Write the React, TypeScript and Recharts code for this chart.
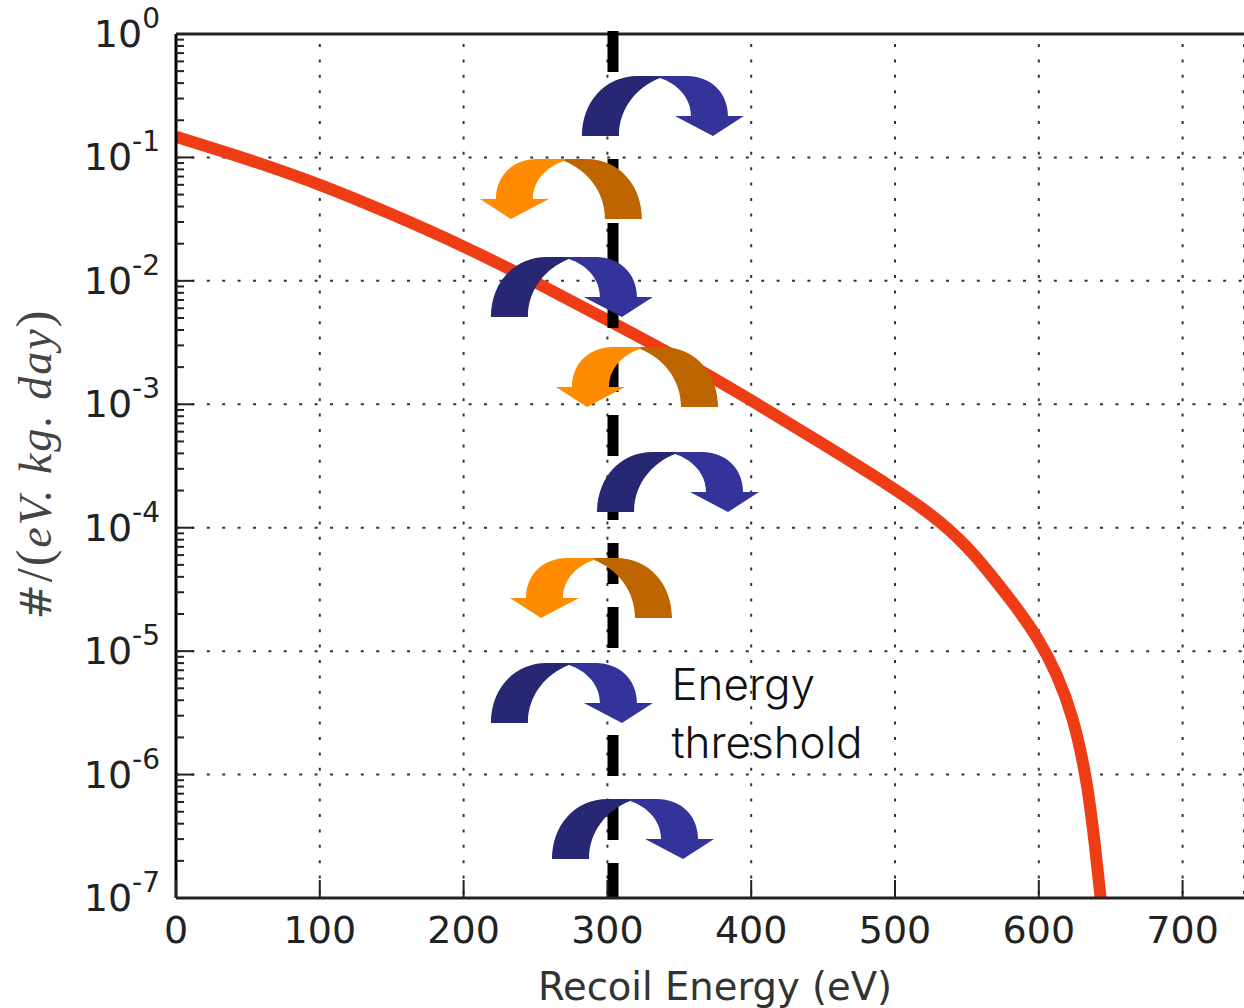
import React from "react";
import {
  ComposedChart, Line, Scatter, XAxis, YAxis, CartesianGrid, ReferenceLine, ReferenceDot,
} from "recharts";

const energy = [0, 50, 100, 150, 200, 250, 300, 350, 400, 450, 500, 520.9, 538.2, 550, 562.6, 583.4, 600.1, 612.7, 623.8, 632.8, 637.7, 643];
const rate = [0.147, 0.0971, 0.0609, 0.0348, 0.0192, 0.0098, 0.00482, 0.00237, 0.00108, 0.000476, 2.06e-4, 1.39e-4, 9.6e-5, 6.98e-5, 4.8e-5, 2.36e-5, 1.25e-5, 6.53e-6, 2.98e-6, 9.9e-7, 3.76e-7, 1e-7];
const curve = energy.map((x, i) => ({ x, y: rate[i] }));

const xTicks = [0, 100, 200, 300, 400, 500, 600, 700];
const yTicks = [1, 1e-1, 1e-2, 1e-3, 1e-4, 1e-5, 1e-6, 1e-7];
const yExponents = ["0", "-1", "-2", "-3", "-4", "-5", "-6", "-7"];
const minorMantissas = [2, 3, 4, 5, 6, 7, 8, 9];
const minorTicks = yTicks.slice(1).flatMap((d) => minorMantissas.map((m) => m * d));

const threshold = 303.9;

const blueArrowX = [282.3, 219, 292.8, 219];
const blueArrowY = [0.149, 5.09e-3, 1.34e-4, 2.62e-6];
const orangeArrowX = [324, 376.9, 344.9];
const orangeArrowY = [0.0317, 9.5e-4, 1.86e-5];
const underArrowX = [261.5];
const underArrowY = [2.07e-7];

const blueArrows = blueArrowX.map((x, i) => ({ x, y: blueArrowY[i] }));
const orangeArrows = orangeArrowX.map((x, i) => ({ x, y: orangeArrowY[i] }));
const underArrows = underArrowX.map((x, i) => ({ x, y: underArrowY[i] }));

const NUM_FONT = "'DejaVu Sans', sans-serif";
const INK = "#222";

function CurvedArrow({ cx, cy, dark, light, flip }: any) {
  const t = flip ? `translate(${cx},${cy}) scale(-1,1)` : `translate(${cx},${cy})`;
  return (
    <g transform={t}>
      <path d="M0,0 L37,0 C37,-28 55,-49 78,-58 L78,-60 L56,-60 C22,-60 0,-33 0,0 Z" fill={dark} />
      <path d="M78,-58 C96,-52 109,-38 109,-20 L93,-20 L131,0 L162,-20 L146,-20 C146,-44 128,-60 105,-60 L76,-60 Z" fill={light} />
    </g>
  );
}

const BlueShape = (p: any) => <CurvedArrow cx={p.cx} cy={p.cy} dark="#272773" light="#333399" />;
const OrangeShape = (p: any) => <CurvedArrow cx={p.cx} cy={p.cy} dark="#bf6500" light="#ff8c00" flip />;

function YTick({ y, payload }: any) {
  const idx = yTicks.indexOf(payload.value);
  return (
    <g>
      <line x1={176} x2={194} y1={y} y2={y} stroke="#222" strokeWidth={2} />
      <text x={160} y={y + 13} textAnchor="end" fontFamily={NUM_FONT} fontSize={38} fill={INK}>
        10
        <tspan dy={-19} fontSize={28}>{yExponents[idx]}</tspan>
      </text>
    </g>
  );
}

function MinorTick({ y }: any) {
  return <line x1={176} x2={184} y1={y} y2={y} stroke="#222" strokeWidth={2} />;
}

function XTick({ x, payload }: any) {
  return (
    <g>
      <line x1={x} x2={x} y1={898} y2={880} stroke="#222" strokeWidth={2} />
      <text x={x} y={943} textAnchor="middle" fontFamily={NUM_FONT} fontSize={38} fill={INK}>
        {payload.value}
      </text>
    </g>
  );
}

const XTitle = () => (
  <text x={715} y={1000} textAnchor="middle" fontFamily={NUM_FONT} fontSize={38.5} fill="#333">
    Recoil Energy (eV)
  </text>
);

const YTitle = () => (
  <text
    transform="translate(51,464) rotate(-90)"
    textAnchor="middle"
    fontFamily="'Liberation Serif', serif"
    fontSize={46}
    letterSpacing={2}
    fill="#444"
  >
    <tspan fontFamily={NUM_FONT} fontSize={42}>#</tspan>
    <tspan fontSize={50}>/(</tspan>
    <tspan fontStyle="italic">eV. kg. day</tspan>
    <tspan fontSize={50}>)</tspan>
  </text>
);

const labelX = 344.5;
const labelLines = ["Energy", "threshold"];
const labelY = [4.02e-6, 1.36e-6];

const NoteText = (text: string) => (p: any) => (
  <text x={p.cx} y={p.cy} fontFamily="Inter, sans-serif" fontWeight={300} fontSize={44} fill="#111">
    {text}
  </text>
);

export default function App() {
  return (
    <div style={{ position: "absolute", left: 0, top: 0, width: 1244, height: 1008, background: "#fff", overflow: "hidden" }}>
      <ComposedChart width={1244} height={1008} margin={{ top: 34, right: 0, bottom: 0, left: 0 }}>
        <CartesianGrid vertical={false} stroke="#333" strokeWidth={2} strokeDasharray="3 12.4" />
        <CartesianGrid horizontal={false} stroke="#333" strokeWidth={2} strokeDasharray="3 12.4" strokeDashoffset={5.4} />
        <XAxis
          type="number"
          dataKey="x"
          domain={[0, 742.7]}
          ticks={xTicks}
          interval={0}
          allowDataOverflow
          height={110}
          tickSize={0}
          tickLine={false}
          tick={<XTick />}
          axisLine={{ stroke: "#222", strokeWidth: 3 }}
          label={<XTitle />}
        />
        <YAxis
          type="number"
          scale="log"
          domain={[1e-7, 1]}
          ticks={yTicks}
          interval={0}
          allowDataOverflow
          width={175}
          tickSize={0}
          tickLine={false}
          tick={<YTick />}
          axisLine={{ stroke: "#000", strokeWidth: 3 }}
          label={<YTitle />}
        />
        <YAxis
          yAxisId="minor"
          type="number"
          scale="log"
          domain={[1e-7, 1]}
          ticks={minorTicks}
          interval={0}
          allowDataOverflow
          width={1}
          tickSize={0}
          tickLine={false}
          axisLine={false}
          tick={<MinorTick />}
        />
        <ReferenceLine y={1} stroke="#222" strokeWidth={3} ifOverflow="visible" />
        <Line data={curve} dataKey="y" type="basis" stroke="#ee3d14" strokeWidth={12} dot={false} isAnimationActive={false} />
        <Scatter data={underArrows} dataKey="y" shape={BlueShape} isAnimationActive={false} />
        <ReferenceLine
          segment={[{ x: threshold, y: 1.057 }, { x: threshold, y: 1e-7 }]}
          stroke="#000"
          strokeWidth={11}
          strokeDasharray="41 23"
          ifOverflow="visible"
        />
        <Scatter data={blueArrows} dataKey="y" shape={BlueShape} isAnimationActive={false} />
        <Scatter data={orangeArrows} dataKey="y" shape={OrangeShape} isAnimationActive={false} />
        {labelLines.map((t, i) => (
          <ReferenceDot key={t} x={labelX} y={labelY[i]} r={0} shape={NoteText(t)} ifOverflow="visible" />
        ))}
      </ComposedChart>
    </div>
  );
}
